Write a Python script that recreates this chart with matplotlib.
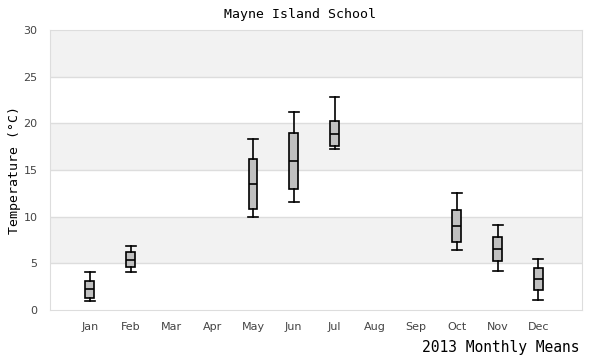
import matplotlib
matplotlib.use('Agg')
import matplotlib.pyplot as plt

months = ["Jan", "Feb", "Mar", "Apr", "May", "Jun", "Jul", "Aug", "Sep", "Oct", "Nov", "Dec"]
# box stats per month (None = no data)
whislo = [0.93, 4.04, None, None, 9.93, 11.57, 17.21, None, None, 6.39, 4.18, 1.04]
q1     = [1.25, 4.64, None, None, 10.79, 12.93, 17.57, None, None, 7.25, 5.21, 2.11]
med    = [2.25, 5.36, None, None, 13.46, 15.93, 18.89, None, None, 8.96, 6.50, 3.29]
q3     = [3.07, 6.18, None, None, 16.14, 18.93, 20.21, None, None, 10.68, 7.79, 4.46]
whishi = [4.04, 6.86, None, None, 18.29, 21.18, 22.79, None, None, 12.50, 9.11, 5.43]

MONO = "DejaVu Sans Mono"
TICK = "#444444"
LINE = "#dddddd"

fig = plt.figure(figsize=(6, 3.6), dpi=100)
ax = fig.add_axes([0.0833, 0.139, 0.8867, 0.7777])

# alternating horizontal bands
for lo in range(0, 30, 10):
    ax.axhspan(lo + 5, lo + 10, color="#f2f2f2", lw=0, zorder=0)
for y in range(5, 30, 5):
    ax.axhline(y, color=LINE, lw=1, zorder=0.5)

stats, pos = [], []
for i in range(len(months)):
    if med[i] is None:
        continue
    stats.append(dict(whislo=whislo[i], q1=q1[i], med=med[i], q3=q3[i], whishi=whishi[i], fliers=[]))
    pos.append(i)

ax.bxp(stats, positions=pos, widths=0.22, patch_artist=True, showfliers=False,
       boxprops=dict(facecolor="#c0c0c0", edgecolor="black", lw=1.2),
       medianprops=dict(color="black", lw=1.2),
       whiskerprops=dict(color="black", lw=1.2),
       capprops=dict(color="black", lw=1.2), capwidths=0.24, zorder=3)

ax.set_xlim(-0.98, 12.07)
ax.set_ylim(0, 30)
ax.set_xticks(range(len(months)))
ax.set_xticklabels(months)
ax.set_yticks(range(0, 31, 5))
ax.tick_params(length=0, labelsize=8, colors=TICK, pad=9)
ax.tick_params(axis='y', pad=9)
for s in ax.spines.values():
    s.set_color(LINE)

fig.text(0.5, 0.96, "Mayne Island School", ha="center", va="center", family=MONO, fontsize=9.5)
ax.set_ylabel("Temperature (\u00b0C)", family=MONO, fontsize=9.5)
ax.yaxis.set_label_coords(-0.054, 0.5)
fig.text(0.965, 0.035, "2013 Monthly Means", ha="right", va="center", family=MONO, fontsize=10.5)

fig.savefig("out.png", dpi=100)
